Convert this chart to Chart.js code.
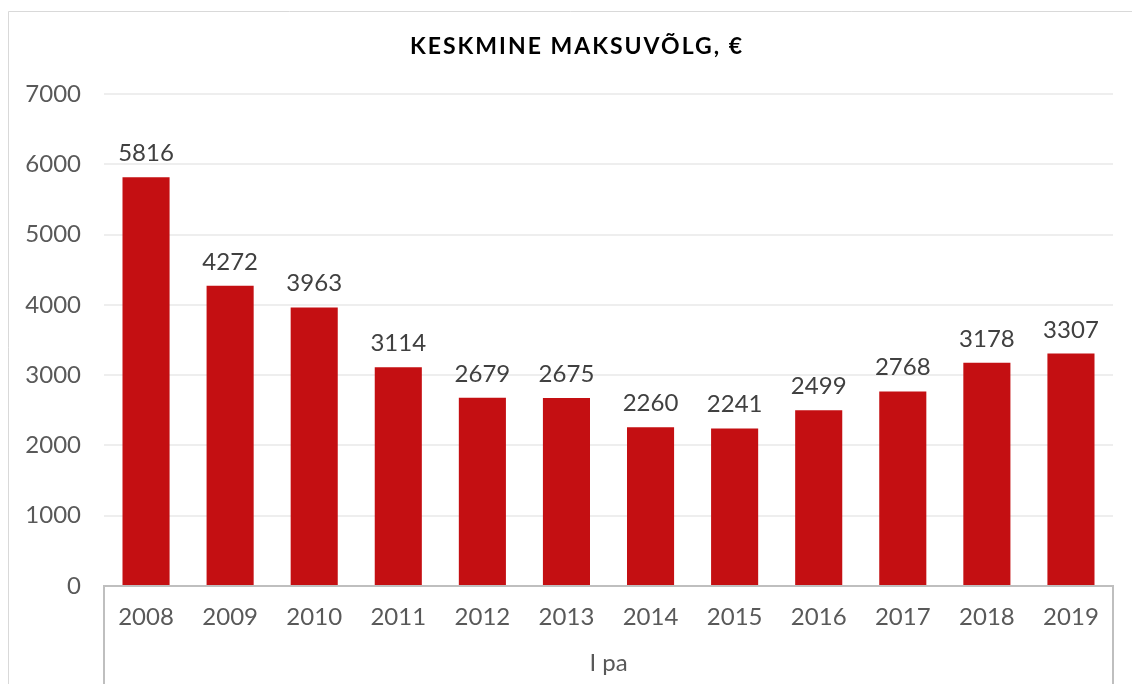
<!DOCTYPE html>
<html><head><meta charset="utf-8">
<script src="https://cdn.jsdelivr.net/npm/chart.js@4.4.1/dist/chart.umd.min.js"></script>
<style>html,body{margin:0;padding:0;background:#fff;overflow:hidden}canvas{display:block}</style>
</head><body>
<canvas id="c" width="1132" height="684"></canvas>
<script>
const chartTitle = 'KESKMINE MAKSUVÕLG, €';
const categories = ['2008','2009','2010','2011','2012','2013','2014','2015','2016','2017','2018','2019'];
const groupLabel = 'I pa';
const values = [5816,4272,3963,3114,2679,2675,2260,2241,2499,2768,3178,3307];
const yMin = 0, yMax = 7000, yStep = 1000;

const FONT = 'Lato, "Open Sans", sans-serif';

const framePlugin = {
  id: 'frame',
  beforeDraw(chart) {
    const ctx = chart.ctx;
    ctx.save();
    ctx.fillStyle = '#fff';
    ctx.fillRect(0, 0, chart.width, chart.height);
    ctx.strokeStyle = '#d9d9d9';
    ctx.lineWidth = 1;
    ctx.beginPath();
    ctx.moveTo(8.5, chart.height);
    ctx.lineTo(8.5, 11.5);
    ctx.lineTo(chart.width, 11.5);
    ctx.stroke();
    ctx.restore();
  },
  afterDraw(chart) {
    const ctx = chart.ctx;
    const a = chart.chartArea;
    ctx.save();
    ctx.strokeStyle = '#bfbfbf';
    ctx.lineWidth = 2;
    ctx.beginPath();
    ctx.moveTo(a.left, a.bottom - 1);
    ctx.lineTo(a.left, chart.height);
    ctx.moveTo(a.right, a.bottom - 1);
    ctx.lineTo(a.right, chart.height);
    ctx.stroke();
    ctx.fillStyle = '#000';
    ctx.font = 'bold 23px ' + FONT;
    ctx.textAlign = 'center';
    ctx.textBaseline = 'middle';
    ctx.letterSpacing = '2px';
    ctx.fillText(chartTitle, 577, 47);
    ctx.restore();
  }
};

const labelPlugin = {
  id: 'valueLabels',
  afterDatasetsDraw(chart) {
    const ctx = chart.ctx;
    const meta = chart.getDatasetMeta(0);
    ctx.save();
    ctx.fillStyle = '#404040';
    ctx.font = '24px ' + FONT;
    ctx.textAlign = 'center';
    ctx.textBaseline = 'alphabetic';
    meta.data.forEach((el, i) => {
      ctx.fillText(String(chart.data.datasets[0].data[i]), el.x, el.y - 16);
    });
    ctx.restore();
  }
};

new Chart(document.getElementById('c'), {
  type: 'bar',
  data: {
    labels: categories,
    datasets: [{
      data: values,
      backgroundColor: '#c40f12',
      borderWidth: 0,
      categoryPercentage: 1,
      barPercentage: 0.56
    }]
  },
  options: {
    responsive: false,
    animation: false,
    layout: { padding: { top: 94, right: 19, bottom: 0, left: 0 } },
    plugins: { legend: { display: false }, tooltip: { enabled: false }, title: { display: false } },
    scales: {
      x: {
        grid: { display: false, drawTicks: false },
        border: { display: true, color: '#bfbfbf', width: 2 },
        ticks: { color: '#595959', font: { family: FONT, size: 24 }, padding: 17, maxRotation: 0 },
        title: { display: true, text: groupLabel, color: '#595959', font: { family: FONT, size: 24 }, padding: { top: 0, bottom: 6 } },
        afterFit(scale) { scale.height = 98; }
      },
      y: {
        min: yMin, max: yMax,
        ticks: { stepSize: yStep, color: '#595959', font: { family: FONT, size: 24 }, padding: 23,
                 callback: (v) => String(v) },
        grid: { color: '#eeeeee', lineWidth: 2, drawTicks: false },
        border: { display: false },
        afterFit(scale) { scale.width = 104; }
      }
    }
  },
  plugins: [framePlugin, labelPlugin]
});
</script>
</body></html>
